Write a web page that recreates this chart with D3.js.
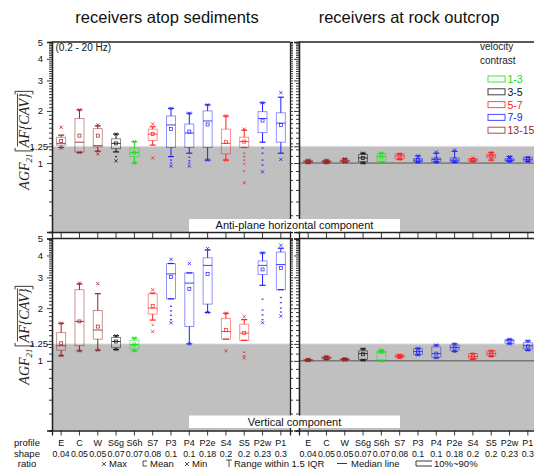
<!DOCTYPE html>
<html><head><meta charset="utf-8">
<script src="https://cdn.jsdelivr.net/npm/d3@7"></script>
<style>body{margin:0;background:#fff}svg{display:block;font-family:"Liberation Sans",Arial,sans-serif}</style>
</head><body><svg id="c" width="534" height="469"></svg>
<script>
const profiles = ["E","C","W","S6g","S6h","S7","P3","P4","P2e","S4","S5","P2w","P1"];
const shapeRatios = ["0.04","0.05","0.05","0.07","0.07","0.08","0.1","0.1","0.18","0.2","0.2","0.23","0.3"];
const profileContrast = ["13-15","13-15","13-15","3-5","1-3","5-7","7-9","7-9","7-9","5-7","5-7","7-9","7-9"];
const contrastGroups = ["1-3","3-5","5-7","7-9","13-15"];
const contrastColors = ["#11dd11","#111111","#ff2020","#2020ff","#992222"];
const yMajorTicks = [1, 1.25, 2, 3, 4, 5];
const yDomain = [0.4, 5];
const thresholdValue = 1.25;

// stats per profile: [whiskerLo, q1, median, q3, whiskerHi, mean, min, max]
const horizSediment = [
  [1.23,1.27,1.30,1.41,1.45,1.34,1.22,1.61],
  [1.15,1.16,1.32,1.81,2.03,1.44,1.15,2.03],
  [1.17,1.24,1.26,1.58,1.64,1.44,1.13,1.66],
  [1.16,1.21,1.30,1.38,1.47,1.30,1.03,1.47],
  [1.00,1.09,1.15,1.22,1.33,1.15,1.00,1.33],
  [1.27,1.35,1.47,1.57,1.62,1.47,1.07,1.68],
  [1.09,1.23,1.66,1.87,2.07,1.57,0.96,2.07],
  [1.14,1.23,1.49,1.68,1.94,1.52,0.96,1.94],
  [1.04,1.23,1.75,2.00,2.17,1.67,1.04,2.17],
  [1.04,1.13,1.30,1.57,1.87,1.32,1.04,1.87],
  [1.23,1.23,1.33,1.41,1.55,1.33,0.77,1.57],
  [1.32,1.50,1.81,1.98,2.23,1.76,0.89,2.23],
  [1.14,1.32,1.70,1.95,2.40,1.66,1.05,2.55]
];
const horizSedimentOutliers = [[],[],[1.18],[1.09],[],[],[1.04,1.00],[1.08,1.03,1.00],[],[],[1.14,1.09,1.04,0.99,0.90],[1.22,1.14,1.04,0.975],[]];

const vertSediment = [
  [1.07,1.15,1.22,1.45,1.64,1.26,1.07,1.64],
  [1.14,1.22,1.68,2.55,2.75,1.68,1.14,2.78],
  [1.15,1.33,1.50,1.94,2.42,1.57,1.15,2.76],
  [1.16,1.19,1.29,1.36,1.39,1.29,1.16,1.39],
  [1.14,1.17,1.24,1.31,1.35,1.24,1.14,1.35],
  [1.71,1.85,2.00,2.41,2.44,2.06,1.47,2.55],
  [2.26,2.26,3.14,3.59,3.60,3.02,1.65,3.80],
  [1.25,1.57,2.78,3.18,3.18,2.57,1.25,3.60],
  [1.89,2.11,3.51,3.88,4.30,3.14,1.89,4.38],
  [1.33,1.33,1.47,1.75,1.87,1.50,1.14,1.87],
  [1.31,1.31,1.44,1.62,1.72,1.44,1.04,1.79],
  [2.70,3.11,3.51,3.72,4.14,3.33,1.65,4.14],
  [2.55,2.55,3.55,4.18,4.40,3.40,1.80,4.57]
];
const vertSedimentOutliers = [[],[],[],[],[],[1.60],[2.05,1.93,1.82,1.72],[],[],[],[1.12,1.07],[2.25,1.95,1.83,1.72],[2.30,2.15,2.00,1.90]];

const horizRock = [
  [1.00,1.01,1.02,1.03,1.04,1.02,1.00,1.04],
  [1.00,1.01,1.02,1.03,1.04,1.02,1.00,1.04],
  [1.01,1.02,1.03,1.04,1.06,1.03,1.01,1.06],
  [1.00,1.02,1.07,1.12,1.14,1.07,1.00,1.14],
  [1.01,1.02,1.09,1.13,1.14,1.08,1.01,1.14],
  [1.05,1.06,1.10,1.13,1.13,1.10,1.05,1.13],
  [1.01,1.02,1.04,1.06,1.10,1.04,1.01,1.10],
  [1.01,1.02,1.05,1.07,1.14,1.05,1.01,1.16],
  [1.01,1.02,1.04,1.07,1.17,1.05,1.01,1.19],
  [1.02,1.03,1.04,1.06,1.06,1.04,1.02,1.07],
  [1.04,1.07,1.10,1.12,1.15,1.10,1.04,1.15],
  [1.02,1.03,1.04,1.06,1.09,1.04,1.02,1.09],
  [1.02,1.03,1.05,1.08,1.08,1.05,1.02,1.08]
];
const horizRockOutliers = [[],[],[],[],[],[],[],[],[],[],[],[],[]];

const vertRock = [
  [1.00,1.005,1.01,1.015,1.02,1.01,1.00,1.02],
  [1.02,1.03,1.04,1.05,1.06,1.04,1.02,1.06],
  [1.01,1.015,1.02,1.025,1.03,1.02,1.01,1.03],
  [1.01,1.02,1.10,1.14,1.17,1.09,1.01,1.17],
  [1.00,1.01,1.12,1.13,1.15,1.12,1.00,1.15],
  [1.04,1.05,1.06,1.08,1.08,1.06,1.04,1.08],
  [1.08,1.09,1.13,1.17,1.18,1.13,1.08,1.18],
  [1.04,1.05,1.10,1.20,1.23,1.10,1.04,1.23],
  [1.13,1.15,1.19,1.23,1.25,1.19,1.13,1.25],
  [1.02,1.03,1.06,1.10,1.10,1.06,1.02,1.10],
  [1.06,1.07,1.10,1.14,1.14,1.10,1.06,1.14],
  [1.25,1.26,1.30,1.32,1.33,1.30,1.25,1.33],
  [1.15,1.17,1.22,1.27,1.30,1.21,1.15,1.30]
];
const vertRockOutliers = [[],[],[],[],[],[],[],[],[],[],[],[],[]];

const columnTitles = ["receivers atop sediments", "receivers at rock outcrop"];
const componentLabels = ["Anti-plane horizontal component", "Vertical component"];
const bandLabel = "(0.2 - 20 Hz)";
const rowLabels = ["profile", "shape", "ratio"];
const statLegend = ["Max", "Mean", "Min", "Range within 1.5 IQR", "Median line", "10%~90%"];

// ---------- drawing ----------
const svg = d3.select("#c");
const colorOf = d3.scaleOrdinal().domain(contrastGroups).range(contrastColors);
const minorTicks = d3.range(5, 50).map(d => d / 10).filter(v => ![1,2,3,4].includes(v));
const AX = "#222";

const rows = [
  {top: 42, bottom: 232, left: {stats: horizSediment, out: horizSedimentOutliers}, right: {stats: horizRock, out: horizRockOutliers}, label: componentLabels[0], boxY: 219},
  {top: 238.5, bottom: 430.5, left: {stats: vertSediment, out: vertSedimentOutliers}, right: {stats: vertRock, out: vertRockOutliers}, label: componentLabels[1], boxY: 415.5}
];
const cols = [{x0: 52, x1: 290, key: "left"}, {x0: 299, x1: 537, key: "right"}];

function drawPanel(row, col, ri, ci) {
  const x = d3.scaleBand().domain(profiles).range([col.x0, col.x1]).padding(0);
  const y = d3.scaleLog().domain(yDomain).range([row.bottom, row.top]);
  const g = svg.append("g");
  g.append("rect").attr("x", col.x0).attr("y", y(thresholdValue))
    .attr("width", col.x1 - col.x0).attr("height", row.bottom - y(thresholdValue)).attr("fill", "#c0c0c0");
  g.append("line").attr("x1", col.x0).attr("x2", col.x1).attr("y1", y(thresholdValue)).attr("y2", y(thresholdValue))
    .attr("stroke", "#e4e4e4").attr("stroke-width", 0.8);
  if (ci === 1) {
    g.append("line").attr("x1", col.x0).attr("x2", col.x1).attr("y1", y(1)).attr("y2", y(1))
      .attr("stroke", "#555").attr("stroke-width", 1);
  }
  const axG = g.append("g").attr("font-family", '"Liberation Sans", Arial, sans-serif');
  const leftMajor = d3.axisLeft(y).tickValues(yMajorTicks).tickSize(5).tickPadding(4)
      .tickFormat(ci === 0 ? (v => v === 1.25 ? "1.25" : String(v)) : () => "");
  const la = axG.append("g").attr("transform", `translate(${col.x0},0)`).call(leftMajor);
  la.selectAll("text").attr("font-size", 9.5).attr("fill", "#111")
    .attr("dx", d => d === 1.25 ? 5 : 0);
  axG.append("g").attr("transform", `translate(${col.x0},0)`)
    .call(d3.axisLeft(y).tickValues(minorTicks).tickSize(3).tickFormat(() => ""));
  axG.append("g").attr("transform", `translate(${col.x1},0)`)
    .call(d3.axisRight(y).tickValues(minorTicks.concat(yMajorTicks)).tickSize(3).tickFormat(() => ""));
  axG.append("g").attr("transform", `translate(0,${row.bottom})`)
    .call(d3.axisBottom(x).tickSize(ri === 0 ? 6 : 5).tickFormat(() => ""));
  axG.append("line").attr("x1", col.x0).attr("x2", col.x1).attr("y1", row.top).attr("y2", row.top);
  axG.selectAll("path.domain").attr("stroke", AX).attr("stroke-width", 1.3);
  axG.selectAll(".tick line").attr("stroke", AX).attr("stroke-width", 0.9);
  axG.selectAll("line").filter(function(){return !this.parentNode.classList.contains("tick");})
    .attr("stroke", AX).attr("stroke-width", 1.3);
  if (ri === 1) {
    const lg = svg.append("g").attr("font-size", 9).attr("fill", "#111").attr("text-anchor", "middle");
    lg.selectAll("text.p").data(profiles).join("text").attr("class", "p")
      .attr("x", d => x(d) + x.bandwidth() / 2).attr("y", 446).text(d => d);
    lg.selectAll("text.r").data(shapeRatios).join("text").attr("class", "r")
      .attr("x", (d, i) => x(profiles[i]) + x.bandwidth() / 2).attr("y", 456.5).attr("font-size", 8.8).text(d => d);
  }
  const stats = row[col.key].stats, outs = row[col.key].out;
  const bw = 9, cw = 6;
  const bg = g.append("g").attr("fill", "none");
  stats.forEach((s, i) => {
    const [lo, q1, med, q3, hi, mean, mn, mx] = s;
    const cx = x(profiles[i]) + x.bandwidth() / 2;
    const c = colorOf(profileContrast[i]);
    const b = bg.append("g").attr("stroke", c);
    b.append("line").attr("x1", cx).attr("x2", cx).attr("y1", y(q3)).attr("y2", y(hi)).attr("stroke-width", 1);
    b.append("line").attr("x1", cx).attr("x2", cx).attr("y1", y(q1)).attr("y2", y(lo)).attr("stroke-width", 1);
    b.append("line").attr("x1", cx - cw/2).attr("x2", cx + cw/2).attr("y1", y(hi)).attr("y2", y(hi)).attr("stroke-width", 1.2);
    b.append("line").attr("x1", cx - cw/2).attr("x2", cx + cw/2).attr("y1", y(lo)).attr("y2", y(lo)).attr("stroke-width", 1.2);
    b.append("rect").attr("x", cx - bw/2).attr("y", y(q3)).attr("width", bw)
      .attr("height", Math.max(0.8, y(q1) - y(q3))).attr("stroke-width", 0.9).attr("stroke-opacity", 0.55);
    b.append("line").attr("x1", cx - bw/2).attr("x2", cx + bw/2).attr("y1", y(med)).attr("y2", y(med))
      .attr("stroke-width", 1).attr("stroke-opacity", 0.85);
    b.append("rect").attr("x", cx - 1.5).attr("y", y(mean) - 1.5).attr("width", 3).attr("height", 3)
      .attr("stroke-width", 0.7);
    [mn, mx].forEach(v => {
      const yy = y(v);
      b.append("path").attr("d", `M${cx-1.6},${yy-1.6}L${cx+1.6},${yy+1.6}M${cx-1.6},${yy+1.6}L${cx+1.6},${yy-1.6}`)
        .attr("stroke-width", 0.8);
    });
    bg.selectAll(null).data(outs[i]).join("rect")
      .attr("x", cx - 1).attr("y", d => y(d) - 0.7).attr("width", 2).attr("height", 1.4)
      .attr("fill", c).attr("fill-opacity", 0.8);
  });
}

rows.forEach((row, ri) => cols.forEach((col, ci) => drawPanel(row, col, ri, ci)));

rows.forEach(row => {
  svg.append("rect").attr("x", 189).attr("y", row.boxY).attr("width", 211).attr("height", 12.5).attr("fill", "#fff");
  svg.append("text").attr("x", 294.5).attr("y", row.boxY + 10.3).attr("text-anchor", "middle")
    .attr("font-size", 11).attr("fill", "#111").text(row.label);
});

columnTitles.forEach((t, i) => {
  svg.append("text").attr("x", i === 0 ? 167 : 409).attr("y", 23).attr("text-anchor", "middle")
    .attr("font-size", 16.5).attr("fill", "#111").text(t);
});
svg.append("text").attr("x", 55.5).attr("y", 50.5).attr("font-size", 10).attr("fill", "#111").text(bandLabel);

svg.append("text").attr("x", 480).attr("y", 50).attr("font-size", 10).attr("fill", "#222").text("velocity");
svg.append("text").attr("x", 480).attr("y", 63.5).attr("font-size", 10).attr("fill", "#222").text("contrast");
contrastGroups.forEach((gname, i) => {
  const yy = 79 + i * 12.8;
  svg.append("rect").attr("x", 488).attr("y", yy - 3).attr("width", 17).attr("height", 6)
    .attr("fill", "none").attr("stroke", colorOf(gname)).attr("stroke-width", 1).attr("stroke-opacity", 0.8);
  svg.append("text").attr("x", 507.5).attr("y", yy + 4).attr("font-size", 10.5).attr("fill", colorOf(gname)).text(gname);
});

function yTitle(cx, cy) {
  const g = svg.append("g").attr("transform", `translate(${cx},${cy}) rotate(-90)`)
    .attr("font-family", '"Liberation Serif", "Times New Roman", serif').attr("font-style", "italic").attr("fill", "#222");
  let xpos = 0;
  const t1 = g.append("text").attr("x", xpos).attr("y", 0).attr("font-size", 14).text("AGF");
  xpos += t1.node().getComputedTextLength();
  const t2 = g.append("text").attr("x", xpos).attr("y", 3).attr("font-size", 9).text("21");
  xpos += t2.node().getComputedTextLength() + 2.5;
  const br = (x0, dir) => g.append("path")
    .attr("d", `M${x0 + dir*3},-14 L${x0},-14 L${x0},4 L${x0 + dir*3},4`)
    .attr("fill", "none").attr("stroke", "#222").attr("stroke-width", 0.9);
  br(xpos, 1); xpos += 3.5;
  const t3 = g.append("text").attr("x", xpos).attr("y", 0).attr("font-size", 14).text("AF{CAV}");
  const w3 = t3.node().getComputedTextLength();
  g.append("line").attr("x1", xpos + 1).attr("x2", xpos + w3).attr("y1", -11.5).attr("y2", -11.5)
    .attr("stroke", "#222").attr("stroke-width", 0.8);
  xpos += w3 + 2;
  br(xpos, -1); xpos += 1;
  g.selectAll("*").attr("transform", `translate(${-xpos/2},0)`);
}
yTitle(29, 140);
yTitle(29, 335);

rowLabels.forEach((t, i) => {
  svg.append("text").attr("x", 27).attr("y", 446 + i * 10.5).attr("text-anchor", "middle")
    .attr("font-size", 9.5).attr("fill", "#111").text(t);
});

const lgY = 467;
const L = svg.append("g").attr("font-size", 9.5).attr("fill", "#111");
const cross = (cx, cy) => L.append("path").attr("d", `M${cx-2},${cy-2}L${cx+2},${cy+2}M${cx-2},${cy+2}L${cx+2},${cy-2}`)
  .attr("stroke", "#222").attr("stroke-width", 0.8);
cross(104, lgY - 3); L.append("text").attr("x", 109).attr("y", lgY).text(statLegend[0]);
L.append("path").attr("d", `M147,${lgY-6}L143,${lgY-6}L143,${lgY-1}L147,${lgY-1}`).attr("fill", "none").attr("stroke", "#222").attr("stroke-width", 0.8);
L.append("text").attr("x", 150).attr("y", lgY).text(statLegend[1]);
cross(187, lgY - 3); L.append("text").attr("x", 192).attr("y", lgY).text(statLegend[2]);
L.append("path").attr("d", `M226,${lgY-7}L232,${lgY-7}M229,${lgY-7}L229,${lgY}`).attr("fill", "none").attr("stroke", "#222").attr("stroke-width", 0.8);
L.append("text").attr("x", 234).attr("y", lgY).text(statLegend[3]);
L.append("line").attr("x1", 337).attr("x2", 347).attr("y1", lgY - 3.5).attr("y2", lgY - 3.5).attr("stroke", "#222").attr("stroke-width", 0.9);
L.append("text").attr("x", 351).attr("y", lgY).text(statLegend[4]);
L.append("path").attr("d", `M432,${lgY-6}L416,${lgY-6}L416,${lgY-1}L432,${lgY-1}`).attr("fill", "none").attr("stroke", "#222").attr("stroke-width", 0.9);
L.append("text").attr("x", 434).attr("y", lgY).text(statLegend[5]);
</script></body></html>
